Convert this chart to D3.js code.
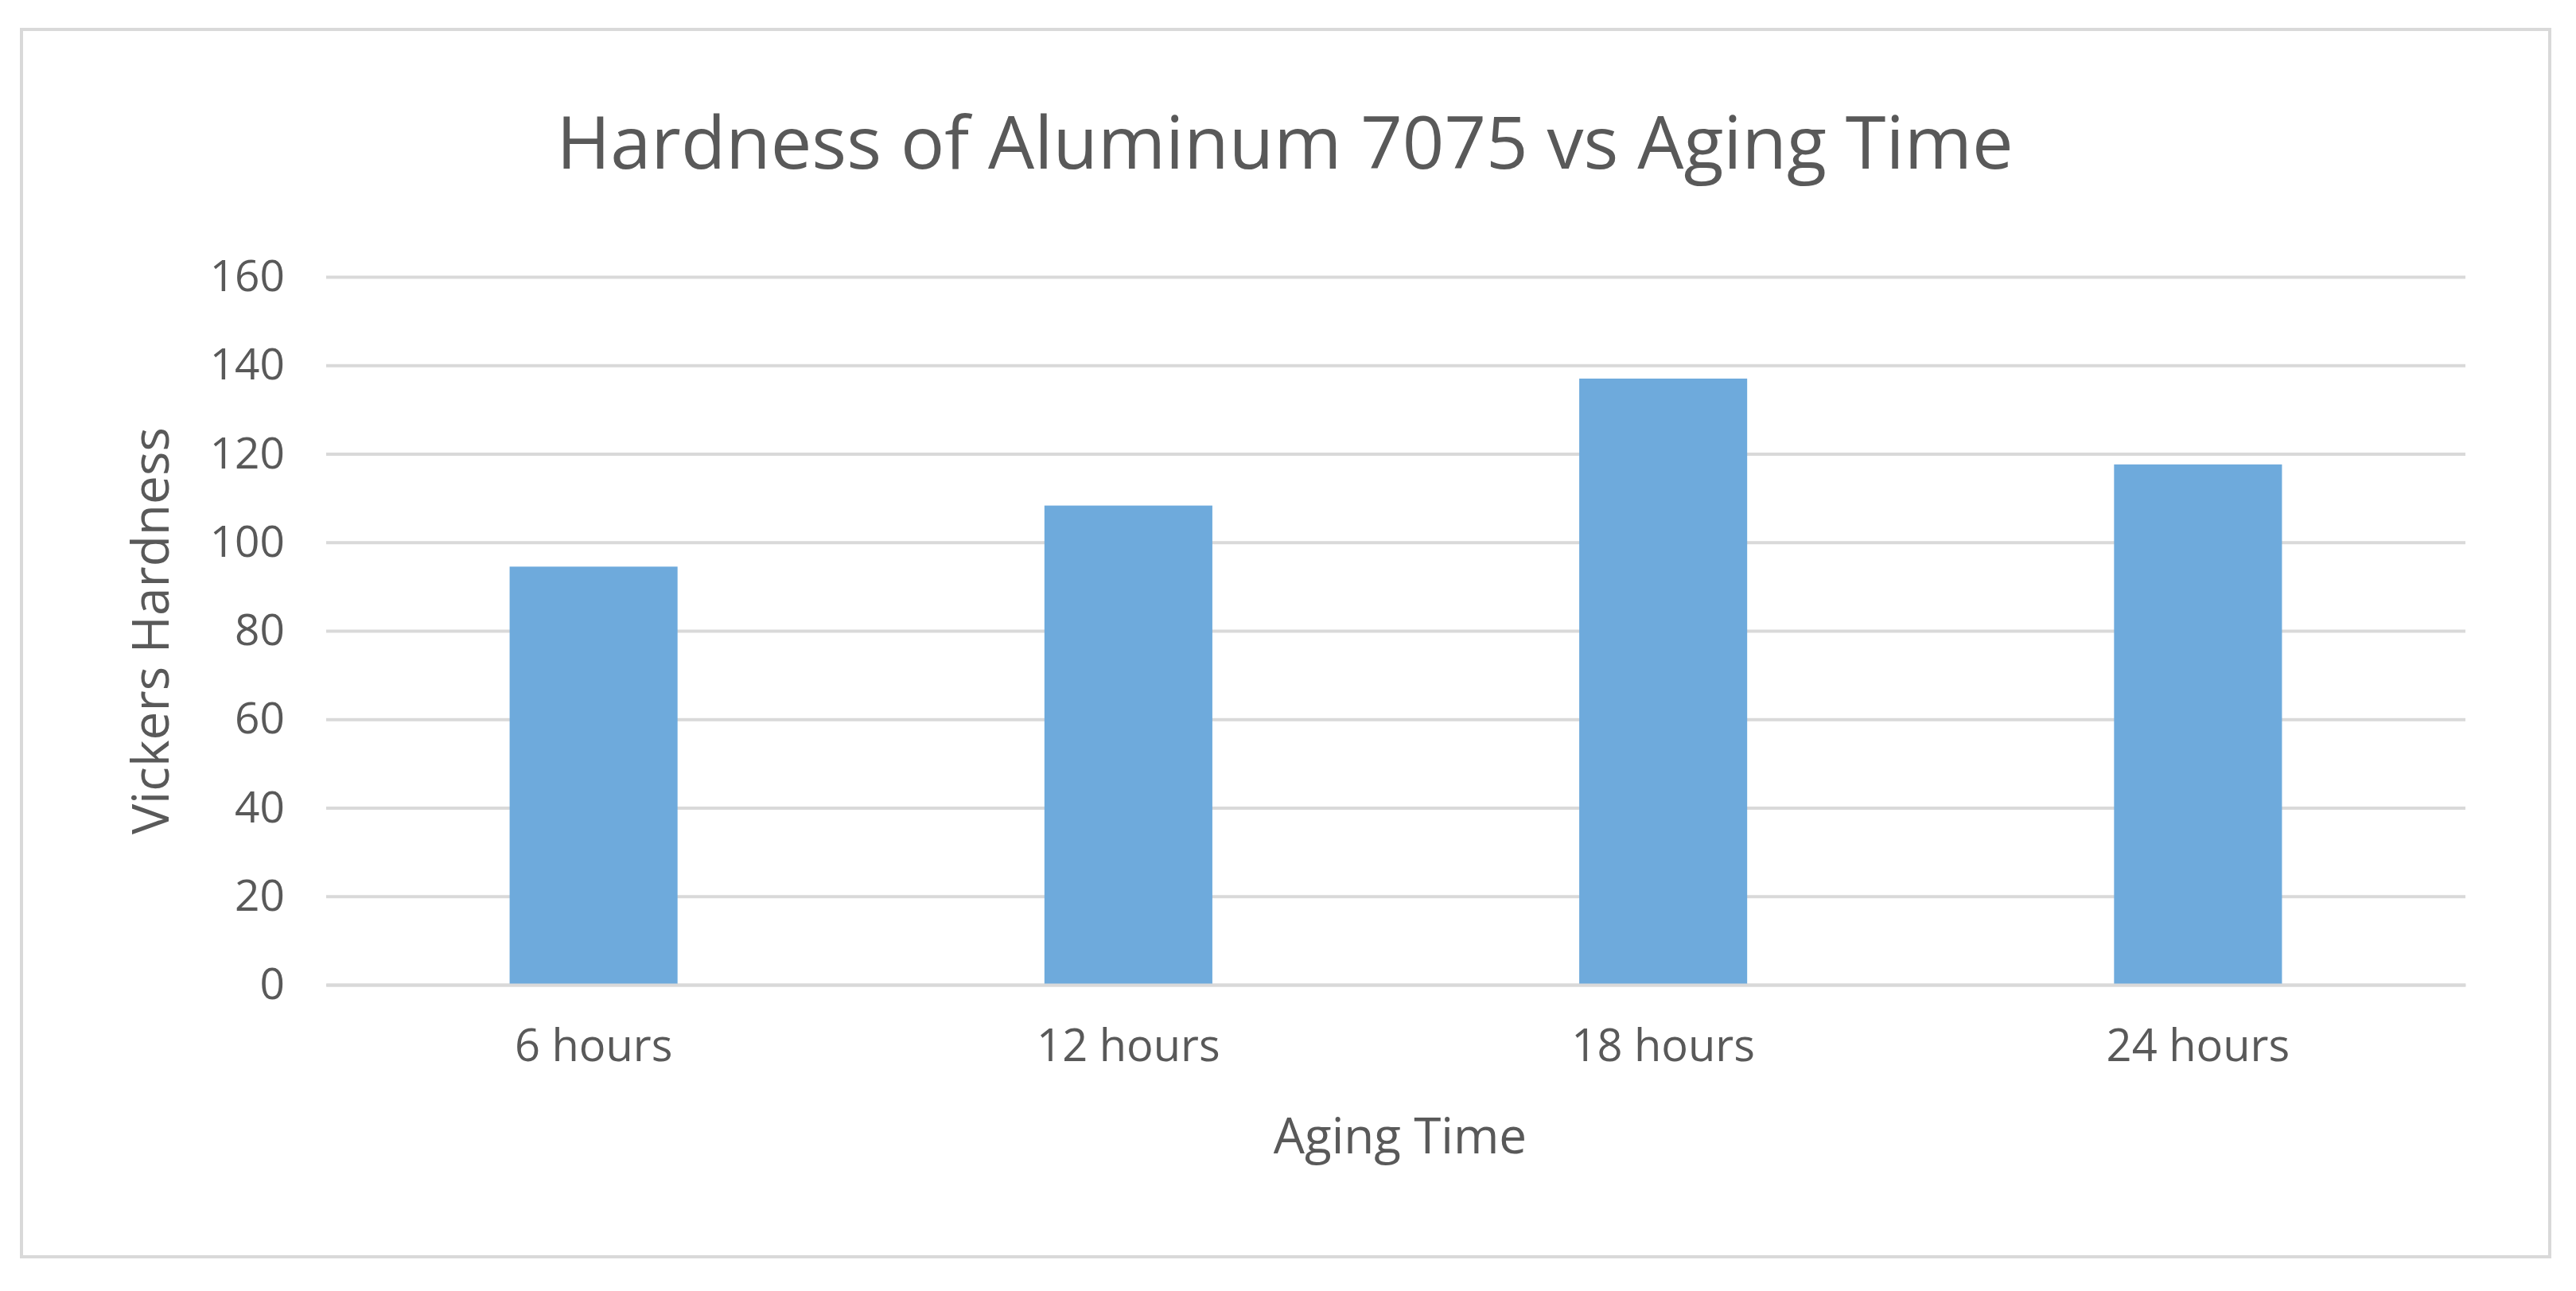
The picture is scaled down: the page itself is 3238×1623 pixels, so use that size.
<!DOCTYPE html>
<html><head><meta charset="utf-8">
<script src="https://cdn.jsdelivr.net/npm/d3@7"></script>
<style>body{margin:0;background:#fff}text{font-family:"Open Sans",sans-serif;fill:#595959}</style>
</head><body><svg id="c" width="3238" height="1623"></svg>
<script>
const categories = ["6 hours","12 hours","18 hours","24 hours"];
const hardness = [94.5, 108.3, 137, 117.6];
const yTicks = [0,20,40,60,80,100,120,140,160];
const title = "Hardness of Aluminum 7075 vs Aging Time";
const xTitle = "Aging Time", yTitle = "Vickers Hardness";

const svg = d3.select("#c");
svg.append("rect").attr("x",27).attr("y",37).attr("width",3178).attr("height",1543)
  .attr("fill","#fff").attr("stroke","#d9d9d9").attr("stroke-width",4);
const L=410,R=3099,T=348,B=1238;
const x = d3.scaleBand().domain(categories).range([L,R]).paddingInner(0.686).paddingOuter(0.343);
const y = d3.scaleLinear().domain([0,160]).range([B,T]);
const gy = svg.append("g").attr("transform",`translate(${L},0)`)
  .call(d3.axisLeft(y).tickValues(yTicks).tickSize(-(R-L)).tickPadding(52));
gy.select(".domain").remove();
gy.selectAll("line").attr("stroke","#d9d9d9").attr("stroke-width",4);
gy.selectAll("text").style("font-size","55px").style("fill","#595959");
svg.selectAll(".bar").data(hardness).join("rect")
  .attr("x",(d,i)=>x(categories[i])).attr("width",x.bandwidth())
  .attr("y",d=>y(d)).attr("height",d=>B-y(d)).attr("fill","#6eaadc");
const gx = svg.append("g").attr("transform",`translate(0,${B})`)
  .call(d3.axisBottom(x).tickSize(0).tickPadding(56));
gx.select(".domain").attr("stroke","#d9d9d9").attr("stroke-width",4);
gx.selectAll("text").style("font-size","56px").style("fill","#595959");
svg.append("text").attr("x",1615).attr("y",212).attr("text-anchor","middle").style("font-size","92px").text(title);
svg.append("text").attr("x",1760).attr("y",1450).attr("text-anchor","middle").style("font-size","62px").text(xTitle);
svg.append("text").attr("transform","translate(212,793) rotate(-90)").attr("text-anchor","middle").style("font-size","64px").text(yTitle);
</script></body></html>
